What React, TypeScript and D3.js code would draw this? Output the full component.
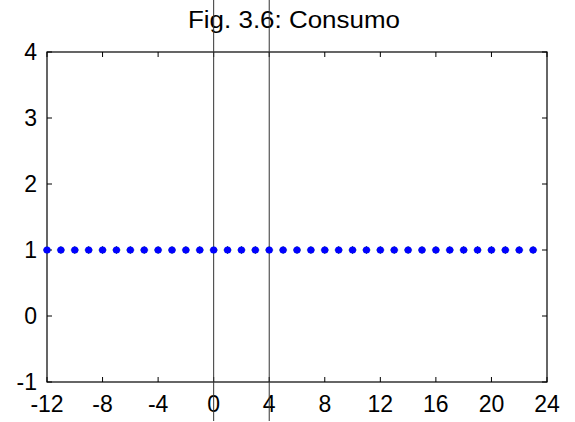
import React from "react";
import * as d3 from "d3";

const title = "Fig. 3.6: Consumo";
const xTicks = [-12, -8, -4, 0, 4, 8, 12, 16, 20, 24];
const yTicks = [-1, 0, 1, 2, 3, 4];
const periods = d3.range(-12, 24); // t = -12 .. 23
const consumo = [
  1, 1, 1, 1, 1, 1, 1, 1, 1, 1, 1, 1, 1, 1, 1, 1, 1, 1,
  1, 1, 1, 1, 1, 1, 1, 1, 1, 1, 1, 1, 1, 1, 1, 1, 1, 1,
];
const markers = [0, 4]; // vertical reference lines

export default function App() {
  const width = 575;
  const height = 422;
  const margin = { top: 52, right: 28, bottom: 40, left: 47 };
  const x = d3.scaleLinear().domain([-12, 24]).range([margin.left, width - margin.right]);
  const y = d3.scaleLinear().domain([-1, 4]).range([height - margin.bottom, margin.top]);
  const font = "'Liberation Sans', Arial, sans-serif";
  const tick = 5;

  return (
    <svg
      width={width}
      height={height}
      style={{ position: "fixed", top: 0, left: 0, background: "white" }}
    >
      <rect x={0} y={0} width={width} height={height} fill="white" />
      <text
        x={294}
        y={28}
        textAnchor="middle"
        fontFamily={font}
        fontSize={23}
        textLength={212}
        lengthAdjust="spacingAndGlyphs"
        fill="black"
      >
        {title}
      </text>

      {/* axes box */}
      <rect
        x={x(-12)}
        y={y(4)}
        width={x(24) - x(-12)}
        height={y(-1) - y(4)}
        fill="none"
        stroke="black"
        strokeWidth={1.2}
      />

      {xTicks.map((t) => (
        <g key={"x" + t}>
          <line x1={x(t)} x2={x(t)} y1={y(-1)} y2={y(-1) - tick} stroke="black" />
          <line x1={x(t)} x2={x(t)} y1={y(4)} y2={y(4) + tick} stroke="black" />
          <text
            x={x(t)}
            y={412}
            textAnchor="middle"
            fontFamily={font}
            fontSize={23}
            fill="black"
          >
            {t}
          </text>
        </g>
      ))}

      {yTicks.map((t) => (
        <g key={"y" + t}>
          <line x1={x(-12)} x2={x(-12) + tick} y1={y(t)} y2={y(t)} stroke="black" />
          <line x1={x(24)} x2={x(24) - tick} y1={y(t)} y2={y(t)} stroke="black" />
          <text
            x={37}
            y={y(t)}
            dy="0.36em"
            textAnchor="end"
            fontFamily={font}
            fontSize={23}
            fill="black"
          >
            {t}
          </text>
        </g>
      ))}

      {markers.map((m) => (
        <line key={"m" + m} x1={x(m)} x2={x(m)} y1={0} y2={421} stroke="#333" strokeWidth={1} />
      ))}

      {periods.map((p, i) => (
        <g key={"p" + p}>
          <line x1={x(p) - 4} x2={x(p) + 4} y1={y(consumo[i])} y2={y(consumo[i])} stroke="#1a8a1a" />
          <line x1={x(p)} x2={x(p)} y1={y(consumo[i]) - 4} y2={y(consumo[i]) + 4} stroke="#1a8a1a" />
          <circle cx={x(p)} cy={y(consumo[i])} r={3.6} fill="#0000ff" />
        </g>
      ))}
    </svg>
  );
}
